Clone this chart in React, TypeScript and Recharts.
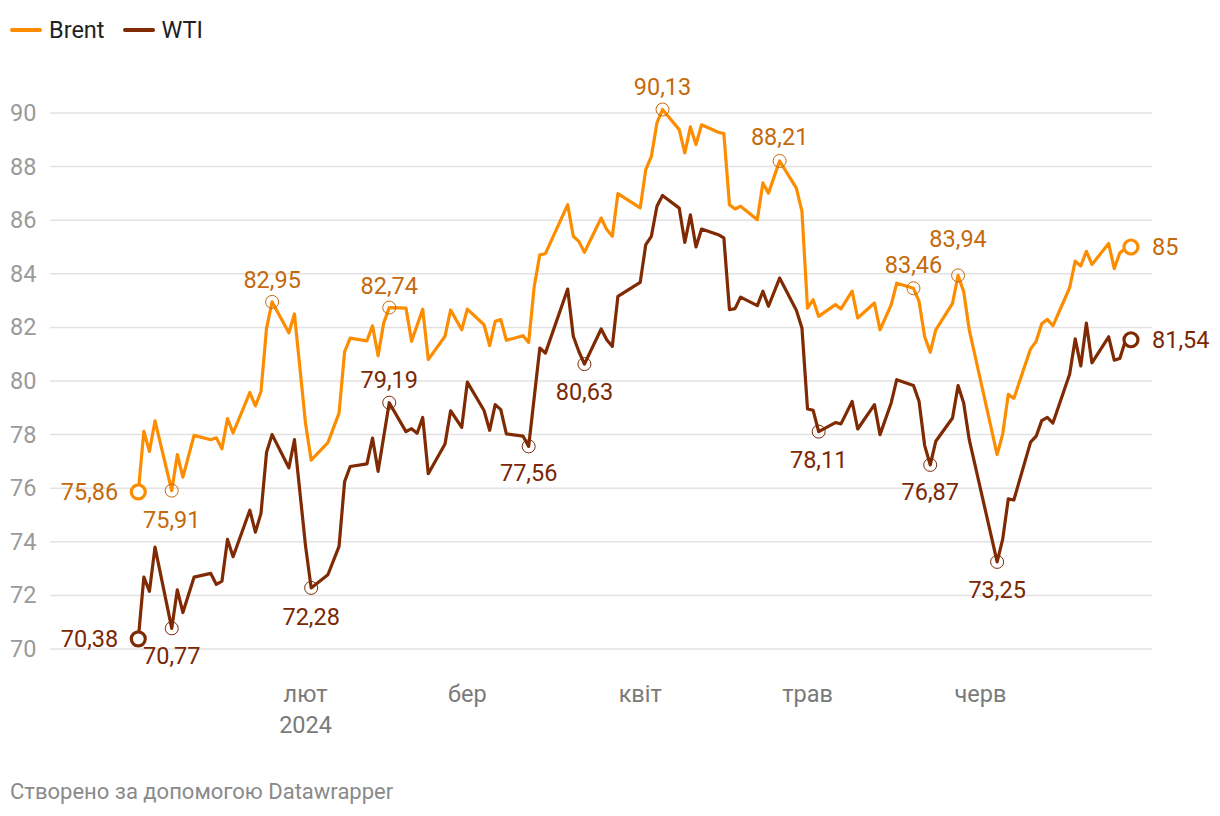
import { LineChart, Line, XAxis, YAxis, CartesianGrid } from "recharts";

// daily prices, $/bbl, 2024
const brentDates = [
  "01-02", "01-03", "01-04", "01-05", "01-08", "01-09", "01-10", "01-12", "01-15", "01-16",
  "01-17", "01-18", "01-19", "01-22", "01-23", "01-24", "01-25", "01-26", "01-29", "01-30",
  "02-01", "02-02", "02-05", "02-07", "02-08", "02-09", "02-12", "02-13", "02-14", "02-15",
  "02-16", "02-19", "02-20", "02-22", "02-23", "02-26", "02-27", "02-29", "03-01", "03-04",
  "03-05", "03-06", "03-07", "03-08", "03-11", "03-12", "03-13", "03-14", "03-15", "03-19",
  "03-20", "03-21", "03-22", "03-25", "03-26", "03-27", "03-28", "04-01", "04-02", "04-03",
  "04-04", "04-05", "04-08", "04-09", "04-10", "04-11", "04-12", "04-15", "04-16", "04-17",
  "04-18", "04-19", "04-22", "04-23", "04-24", "04-26", "04-29", "04-30", "05-01", "05-02",
  "05-03", "05-06", "05-07", "05-09", "05-10", "05-13", "05-14", "05-16", "05-17", "05-20",
  "05-21", "05-22", "05-23", "05-24", "05-27", "05-28", "05-29", "05-30", "05-31", "06-04",
  "06-05", "06-06", "06-07", "06-10", "06-11", "06-12", "06-13", "06-14", "06-17", "06-18",
  "06-19", "06-20", "06-21", "06-24", "06-25", "06-26", "06-27", "06-28",
];
const brentPrices = [
  75.86, 78.12, 77.37, 78.51, 75.91, 77.25, 76.41, 77.97, 77.81, 77.88,
  77.47, 78.6, 78.06, 79.57, 79.07, 79.61, 81.97, 82.95, 81.8, 82.5,
  78.4, 77.05, 77.7, 78.8, 81.1, 81.6, 81.5, 82.06, 80.94, 82.16,
  82.74, 82.72, 81.48, 82.68, 80.8, 81.67, 82.65, 81.91, 82.68, 82.1,
  81.32, 82.23, 82.29, 81.52, 81.69, 81.44, 83.53, 84.71, 84.75, 86.58,
  85.4, 85.21, 84.8, 86.08, 85.65, 85.4, 86.99, 86.46, 87.89, 88.38,
  89.63, 90.13, 89.38, 88.51, 89.48, 88.82, 89.56, 89.28, 89.23, 86.58,
  86.42, 86.52, 86.02, 87.39, 87.01, 88.21, 87.2, 86.33, 82.72, 83.03,
  82.41, 82.85, 82.69, 83.35, 82.35, 82.91, 81.91, 82.84, 83.65, 83.46,
  82.97, 81.66, 81.07, 81.91, 82.9, 83.94, 83.34, 81.91, 80.98, 77.25,
  78.02, 79.5, 79.35, 81.2, 81.48, 82.14, 82.3, 82.06, 83.48, 84.47,
  84.29, 84.84, 84.35, 85.13, 84.19, 84.78, 84.95, 85,
];

const wtiDates = [
  "01-02", "01-03", "01-04", "01-05", "01-08", "01-09", "01-10", "01-12", "01-15", "01-16",
  "01-17", "01-18", "01-19", "01-22", "01-23", "01-24", "01-25", "01-26", "01-29", "01-30",
  "02-01", "02-02", "02-05", "02-07", "02-08", "02-09", "02-12", "02-13", "02-14", "02-16",
  "02-19", "02-20", "02-21", "02-22", "02-23", "02-26", "02-27", "02-29", "03-01", "03-04",
  "03-05", "03-06", "03-07", "03-08", "03-11", "03-12", "03-14", "03-15", "03-19", "03-20",
  "03-21", "03-22", "03-25", "03-26", "03-27", "03-28", "04-01", "04-02", "04-03", "04-04",
  "04-05", "04-08", "04-09", "04-10", "04-11", "04-12", "04-15", "04-16", "04-17", "04-18",
  "04-19", "04-22", "04-23", "04-24", "04-26", "04-29", "04-30", "05-01", "05-02", "05-03",
  "05-06", "05-07", "05-09", "05-10", "05-13", "05-14", "05-16", "05-17", "05-20", "05-21",
  "05-22", "05-23", "05-24", "05-27", "05-28", "05-29", "05-30", "06-04", "06-05", "06-06",
  "06-07", "06-10", "06-11", "06-12", "06-13", "06-14", "06-17", "06-18", "06-19", "06-20",
  "06-21", "06-24", "06-25", "06-26", "06-27", "06-28",
];
const wtiPrices = [
  70.38, 72.68, 72.15, 73.8, 70.77, 72.21, 71.36, 72.68, 72.82, 72.41,
  72.53, 74.09, 73.44, 75.18, 74.36, 75.06, 77.34, 78.0, 76.76, 77.81,
  73.83, 72.28, 72.77, 73.83, 76.25, 76.81, 76.91, 77.87, 76.63, 79.19,
  78.11, 78.22, 78.05, 78.64, 76.54, 77.65, 78.89, 78.27, 79.96, 78.9,
  78.16, 79.12, 78.93, 78.03, 77.94, 77.56, 81.23, 81.04, 83.43, 81.67,
  81.1, 80.63, 81.94, 81.54, 81.29, 83.16, 83.68, 85.09, 85.4, 86.52,
  86.92, 86.45, 85.17, 86.2, 85.0, 85.67, 85.46, 85.34, 82.66, 82.7,
  83.13, 82.81, 83.35, 82.79, 83.84, 82.64, 81.98, 78.96, 78.91, 78.11,
  78.45, 78.4, 79.24, 78.21, 79.12, 78.0, 79.18, 80.05, 79.83, 79.24,
  77.6, 76.87, 77.75, 78.62, 79.83, 79.18, 77.81, 73.25, 74.1, 75.6,
  75.56, 77.72, 77.94, 78.52, 78.64, 78.43, 80.25, 81.57, 80.56, 82.16,
  80.68, 81.65, 80.78, 80.84, 81.5, 81.54,
];

const monthTicks = ["02-01", "03-01", "04-01", "05-01", "06-01"];
const monthNames = ["лют", "бер", "квіт", "трав", "черв"];
const yTicks = [70, 72, 74, 76, 78, 80, 82, 84, 86, 88, 90];

// annotated points: [dx, dy, anchor]
type Place = [number, number, "start" | "middle" | "end"];
const brentMarks: Record<string, Place> = {
  "01-02": [-20, 0, "end"],
  "01-08": [0, 29, "middle"],
  "01-26": [0, -22, "middle"],
  "02-16": [0, -22, "middle"],
  "04-05": [0, -23, "middle"],
  "04-26": [0, -24, "middle"],
  "05-20": [0, -23, "middle"],
  "05-28": [0, -36, "middle"],
  "06-28": [21, 0, "start"],
};
const wtiMarks: Record<string, Place> = {
  "01-02": [-20, 0, "end"],
  "01-08": [0, 28, "middle"],
  "02-02": [0, 29, "middle"],
  "02-16": [0, -23, "middle"],
  "03-12": [0, 27, "middle"],
  "03-22": [0, 28, "middle"],
  "05-03": [0, 28, "middle"],
  "05-23": [0, 27, "middle"],
  "06-04": [0, 28, "middle"],
  "06-28": [21, 0, "start"],
};

const BRENT = "#fd8d00";
const BRENT_TEXT = "#c46a0c";
const WTI = "#7f2a03";
const WTI_TEXT = "#7a2806";
const FONT = "Roboto, 'Noto Sans', sans-serif";
const FS = 23.5;

const dayOf = (md: string) => {
  const [m, d] = md.split("-").map(Number);
  return (Date.UTC(2024, m - 1, d) - Date.UTC(2024, 0, 1)) / 86400000;
};

const brentData = brentDates.map((d, i) => ({ date: d, day: dayOf(d), v: brentPrices[i] }));
const wtiData = wtiDates.map((d, i) => ({ date: d, day: dayOf(d), v: wtiPrices[i] }));
const fmt = (v: number) => String(v).replace(".", ",");

function makeDot(marks: Record<string, Place>, line: string, text: string, first: string, last: string) {
  return (props: any) => {
    const { cx, cy, payload, index } = props;
    const place = marks[payload.date];
    if (!place) return <g key={`d${index}`} />;
    const ends = payload.date === first || payload.date === last;
    return (
      <g key={`d${index}`}>
        {ends ? (
          <circle cx={cx} cy={cy} r={7} fill="#fff" stroke={line} strokeWidth={3.2} />
        ) : (
          <circle cx={cx} cy={cy} r={6.5} fill="none" stroke={text} strokeWidth={1} />
        )}
        <text
          x={cx + place[0]}
          y={cy + place[1]}
          textAnchor={place[2]}
          dominantBaseline="central"
          fill={text}
          fontSize={FS}
          fontFamily={FONT}
        >
          {fmt(payload.v)}
        </text>
      </g>
    );
  };
}

const MonthTick = ({ x, y, payload }: any) => {
  const i = monthTicks.map(dayOf).indexOf(payload.value);
  return (
    <g>
      <text x={x} y={y + 45} textAnchor="middle" fill="#7a7a7a" fontSize={FS} fontFamily={FONT}>
        {monthNames[i]}
      </text>
      {i === 0 && (
        <text x={x} y={y + 76} textAnchor="middle" fill="#7a7a7a" fontSize={FS} fontFamily={FONT}>
          2024
        </text>
      )}
    </g>
  );
};

const ValueTick = ({ y, payload }: any) => (
  <text x={10} y={y} dominantBaseline="central" fill="#9a9a9a" fontSize={FS} fontFamily={FONT}>
    {payload.value}
  </text>
);

function LegendItem({ color, label }: { color: string; label: string }) {
  return (
    <span style={{ display: "inline-flex", alignItems: "center", marginRight: 16 }}>
      <svg width={36} height={10}>
        <line x1={4} y1={5} x2={32} y2={5} stroke={color} strokeWidth={4} strokeLinecap="round" />
      </svg>
      <span style={{ marginLeft: 5 }}>{label}</span>
    </span>
  );
}

export default function App() {
  return (
    <div
      style={{
        position: "relative",
        width: 1220,
        height: 816,
        margin: -8,
        background: "#fff",
        fontFamily: FONT,
        overflow: "hidden",
      }}
    >
      <div
        style={{
          position: "absolute",
          left: 8,
          top: 16,
          fontSize: FS,
          color: "#222",
          display: "flex",
          lineHeight: "28px",
        }}
      >
        <LegendItem color={BRENT} label="Brent" />
        <LegendItem color={WTI} label="WTI" />
      </div>
      <div style={{ position: "absolute", left: 0, top: 0 }}>
        <LineChart width={1220} height={760} margin={{ top: 100, right: 68, left: 0, bottom: 21 }}>
          <CartesianGrid
            horizontal
            vertical={false}
            horizontalValues={yTicks}
            stroke="#e2e2e2"
            strokeWidth={1.5}
          />
          <XAxis
            type="number"
            dataKey="day"
            domain={[-14.83, 182.77]}
            ticks={monthTicks.map(dayOf)}
            tick={<MonthTick />}
            axisLine={false}
            tickLine={false}
            height={90}
            interval={0}
          />
          <YAxis
            type="number"
            domain={[70, 90.485]}
            ticks={yTicks}
            tick={<ValueTick />}
            axisLine={false}
            tickLine={false}
            width={50}
            interval={0}
          />
          <Line
            data={brentData}
            dataKey="v"
            type="linear"
            stroke={BRENT}
            strokeWidth={3.2}
            strokeLinejoin="round"
            dot={makeDot(brentMarks, BRENT, BRENT_TEXT, "01-02", "06-28")}
            activeDot={false}
            isAnimationActive={false}
          />
          <Line
            data={wtiData}
            dataKey="v"
            type="linear"
            stroke={WTI}
            strokeWidth={3.2}
            strokeLinejoin="round"
            dot={makeDot(wtiMarks, WTI, WTI_TEXT, "01-02", "06-28")}
            activeDot={false}
            isAnimationActive={false}
          />
        </LineChart>
      </div>
      <div style={{ position: "absolute", left: 10, top: 779, fontSize: 22, color: "#8a8a8a" }}>
        Створено за допомогою Datawrapper
      </div>
    </div>
  );
}
